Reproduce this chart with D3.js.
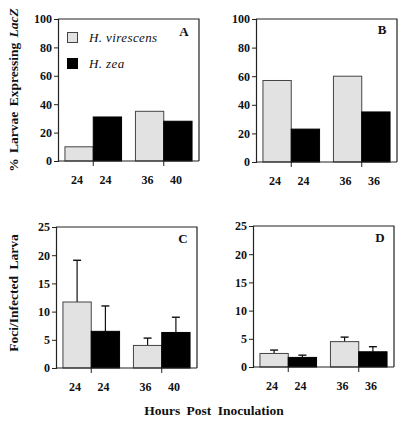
<!DOCTYPE html>
<html><head><meta charset="utf-8">
<script src="https://cdn.jsdelivr.net/npm/d3@7"></script>
<style>
body{margin:0;background:#fff;}
text{font-family:"Liberation Serif","DejaVu Serif",serif;}
</style>
</head><body>
<svg id="chart" width="402" height="421"></svg>
<script>
const seriesNames = ["H. virescens", "H. zea"];
const groups = ["g1", "g2"];

// Panel A: % larvae expressing LacZ
const aVirescens = [10, 35];
const aZea = [31, 28];
const aLabels = [["24", "24"], ["36", "40"]];
// Panel B
const bVirescens = [57, 60];
const bZea = [23, 35];
const bLabels = [["24", "24"], ["36", "36"]];
// Panel C: foci per infected larva (mean, top of error bar)
const cVirescens = [11.7, 4.0];
const cVirescensErr = [19.1, 5.3];
const cZea = [6.5, 6.3];
const cZeaErr = [11.0, 9.0];
const cLabels = [["24", "24"], ["36", "40"]];
// Panel D
const dVirescens = [2.4, 4.5];
const dVirescensErr = [3.0, 5.3];
const dZea = [1.7, 2.7];
const dZeaErr = [2.1, 3.6];
const dLabels = [["24", "24"], ["36", "36"]];

const ticksTop = [0, 20, 40, 60, 80, 100];
const ticksBottom = [0, 5, 10, 15, 20, 25];

const svg = d3.select("#chart");
const fills = ["#e2e2e2", "#000"];

function panel(cfg) {
  const g = svg.append("g").attr("transform", `translate(${cfg.x},${cfg.y})`);
  const W = cfg.w, H = cfg.h;
  const x = d3.scaleBand().domain(groups).range([0, W]).paddingInner(0.197).paddingOuter(0.0986);
  const xs = d3.scaleBand().domain([0, 1]).range([0, x.bandwidth()]);
  const y = d3.scaleLinear().domain([0, cfg.max]).range([H, 0]);

  const rows = [];
  groups.forEach((gr, gi) => {
    [cfg.vir, cfg.zea].forEach((arr, si) => {
      rows.push({gr, gi, si, v: arr[gi], err: cfg.err ? cfg.err[si][gi] : null, label: cfg.labels[gi][si]});
    });
  });

  // error bars (behind bars)
  rows.filter(d => d.err != null).forEach(d => {
    const cx = x(d.gr) + xs(d.si) + xs.bandwidth() / 2;
    g.append("line").attr("x1", cx).attr("x2", cx).attr("y1", y(d.v)).attr("y2", y(d.err))
      .attr("stroke", "#111").attr("stroke-width", 1.2);
    g.append("line").attr("x1", cx - 4).attr("x2", cx + 4).attr("y1", y(d.err)).attr("y2", y(d.err))
      .attr("stroke", "#111").attr("stroke-width", 1.4);
  });

  g.selectAll("rect.bar").data(rows).join("rect")
    .attr("class", "bar")
    .attr("x", d => x(d.gr) + xs(d.si))
    .attr("width", xs.bandwidth())
    .attr("y", d => y(d.v))
    .attr("height", d => H - y(d.v))
    .attr("fill", d => fills[d.si])
    .attr("stroke", d => d.si === 0 ? "#444" : "#000")
    .attr("stroke-width", 1);

  // frame
  g.append("path").attr("d", `M0,0H${W}V${H}`).attr("fill", "none").attr("stroke", "#222").attr("stroke-width", 1.2);

  // y axis
  const ya = g.append("g").call(d3.axisLeft(y).tickValues(cfg.ticks).tickSize(4).tickPadding(2));
  ya.select(".domain").attr("stroke", "#222").attr("stroke-width", 1.2);
  ya.selectAll(".tick line").attr("stroke", "#222");
  ya.selectAll("text").attr("font-size", 12).attr("font-weight", "bold").attr("fill", "#111")
    .attr("font-family", "Liberation Serif");

  // x axis with ticks at group centers
  const xa = g.append("g").attr("transform", `translate(0,${H})`)
    .call(d3.axisBottom(x).tickSize(5).tickFormat(""));
  xa.select(".domain").attr("stroke", "#222").attr("stroke-width", 1.2).attr("d", `M0,0H${W}`);
  xa.selectAll(".tick line").attr("stroke", "#222");

  g.selectAll("text.xl").data(rows).join("text")
    .attr("class", "xl")
    .attr("x", d => x(d.gr) + xs(d.si) + xs.bandwidth() / 2 - 2)
    .attr("y", H + 23)
    .attr("text-anchor", "middle")
    .attr("font-size", 12).attr("font-weight", "bold").attr("fill", "#111")
    .text(d => d.label);

  g.append("text").attr("x", cfg.lx).attr("y", cfg.ly).attr("text-anchor", "middle")
    .attr("font-size", 13).attr("font-weight", "bold").attr("fill", "#111").text(cfg.letter);
  return {g, x, xs, y};
}

const pA = panel({x: 58, y: 19, w: 141, h: 142, max: 100, ticks: ticksTop, vir: aVirescens, zea: aZea, labels: aLabels, letter: "A", lx: 126, ly: 17});
panel({x: 256, y: 19, w: 141, h: 143, max: 100, ticks: ticksTop, vir: bVirescens, zea: bZea, labels: bLabels, letter: "B", lx: 126, ly: 15});
panel({x: 56, y: 227, w: 141, h: 141, max: 25, ticks: ticksBottom, vir: cVirescens, zea: cZea, err: [cVirescensErr, cZeaErr], labels: cLabels, letter: "C", lx: 127, ly: 16});
panel({x: 253, y: 226, w: 141, h: 141, max: 25, ticks: ticksBottom, vir: dVirescens, zea: dZea, err: [dVirescensErr, dZeaErr], labels: dLabels, letter: "D", lx: 127, ly: 16});

// legend in panel A
const leg = pA.g.append("g");
seriesNames.forEach((n, i) => {
  leg.append("rect").attr("x", 9.5).attr("y", 13.5 + i * 26).attr("width", 10).attr("height", 10)
    .attr("fill", fills[i]).attr("stroke", i === 0 ? "#444" : "#000");
  leg.append("text").attr("x", 31).attr("y", 22.5 + i * 26).attr("font-size", 13)
    .attr("font-style", "italic").attr("fill", "#111").attr("letter-spacing", 0.4).text(n);
});

// axis titles
const t1 = svg.append("text").attr("transform", "translate(18,90) rotate(-90)")
  .attr("text-anchor", "middle").attr("font-size", 13.5).attr("font-weight", "bold").attr("fill", "#111")
  .attr("word-spacing", 2);
t1.append("tspan").text("% Larvae Expressing ");
t1.append("tspan").attr("font-style", "italic").text("LacZ");

svg.append("text").attr("transform", "translate(18,293) rotate(-90)")
  .attr("text-anchor", "middle").attr("font-size", 13.5).attr("font-weight", "bold").attr("fill", "#111")
  .attr("word-spacing", 3).text("Foci/Infected Larva");

svg.append("text").attr("x", 214).attr("y", 415).attr("text-anchor", "middle")
  .attr("font-size", 13.5).attr("font-weight", "bold").attr("fill", "#111")
  .attr("word-spacing", 3).text("Hours Post Inoculation");
</script>
</body></html>
